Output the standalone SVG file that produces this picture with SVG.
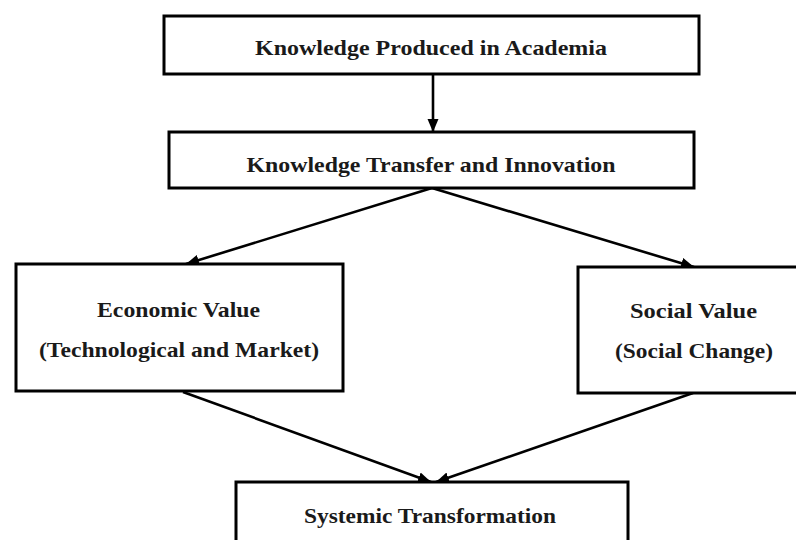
<svg xmlns="http://www.w3.org/2000/svg" width="796" height="540" viewBox="0 0 796 540">
<style>
.box{fill:#fff;stroke:#000;stroke-width:3}
.lbl{font-family:"Liberation Serif","Times New Roman",serif;font-weight:bold;font-size:22px;fill:#1a1a1a;text-anchor:middle}
.conn{stroke:#000;stroke-width:2.6;fill:none;marker-end:url(#ah)}
</style>
<defs>
<marker id="ah" markerUnits="userSpaceOnUse" markerWidth="14" markerHeight="12" refX="13" refY="6" orient="auto">
<path d="M0,0.5 L13,6 L0,11.5 z" fill="#000"/>
</marker>
</defs>
<rect width="796" height="540" fill="#fff"/>
<g id="connectors">
<line class="conn" x1="433" y1="74" x2="433" y2="132"/>
<line class="conn" x1="432" y1="188" x2="186" y2="264"/>
<line class="conn" x1="432" y1="188" x2="694" y2="267"/>
<line class="conn" x1="183" y1="392" x2="431" y2="482"/>
<line class="conn" x1="693" y1="393" x2="436" y2="482"/>
</g>
<g id="node-academia">
<rect class="box" x="164" y="16" width="535" height="58"/>
<text class="lbl" x="431" y="55" textLength="352" lengthAdjust="spacingAndGlyphs">Knowledge Produced in Academia</text>
</g>
<g id="node-transfer">
<rect class="box" x="169" y="132" width="525" height="56"/>
<text class="lbl" x="431" y="172" textLength="369" lengthAdjust="spacingAndGlyphs">Knowledge Transfer and Innovation</text>
</g>
<g id="node-economic">
<rect class="box" x="16" y="264" width="327" height="127"/>
<text class="lbl" x="178.5" y="317" textLength="163" lengthAdjust="spacingAndGlyphs">Economic Value</text>
<text class="lbl" x="179" y="357" textLength="280" lengthAdjust="spacingAndGlyphs">(Technological and Market)</text>
</g>
<g id="node-social">
<rect class="box" x="578" y="267" width="230" height="126"/>
<text class="lbl" x="693.5" y="318" textLength="127" lengthAdjust="spacingAndGlyphs">Social Value</text>
<text class="lbl" x="694" y="358" textLength="158" lengthAdjust="spacingAndGlyphs">(Social Change)</text>
</g>
<g id="node-systemic">
<rect class="box" x="236" y="482" width="392" height="70"/>
<text class="lbl" x="430" y="523" textLength="252" lengthAdjust="spacingAndGlyphs">Systemic Transformation</text>
</g>
</svg>
